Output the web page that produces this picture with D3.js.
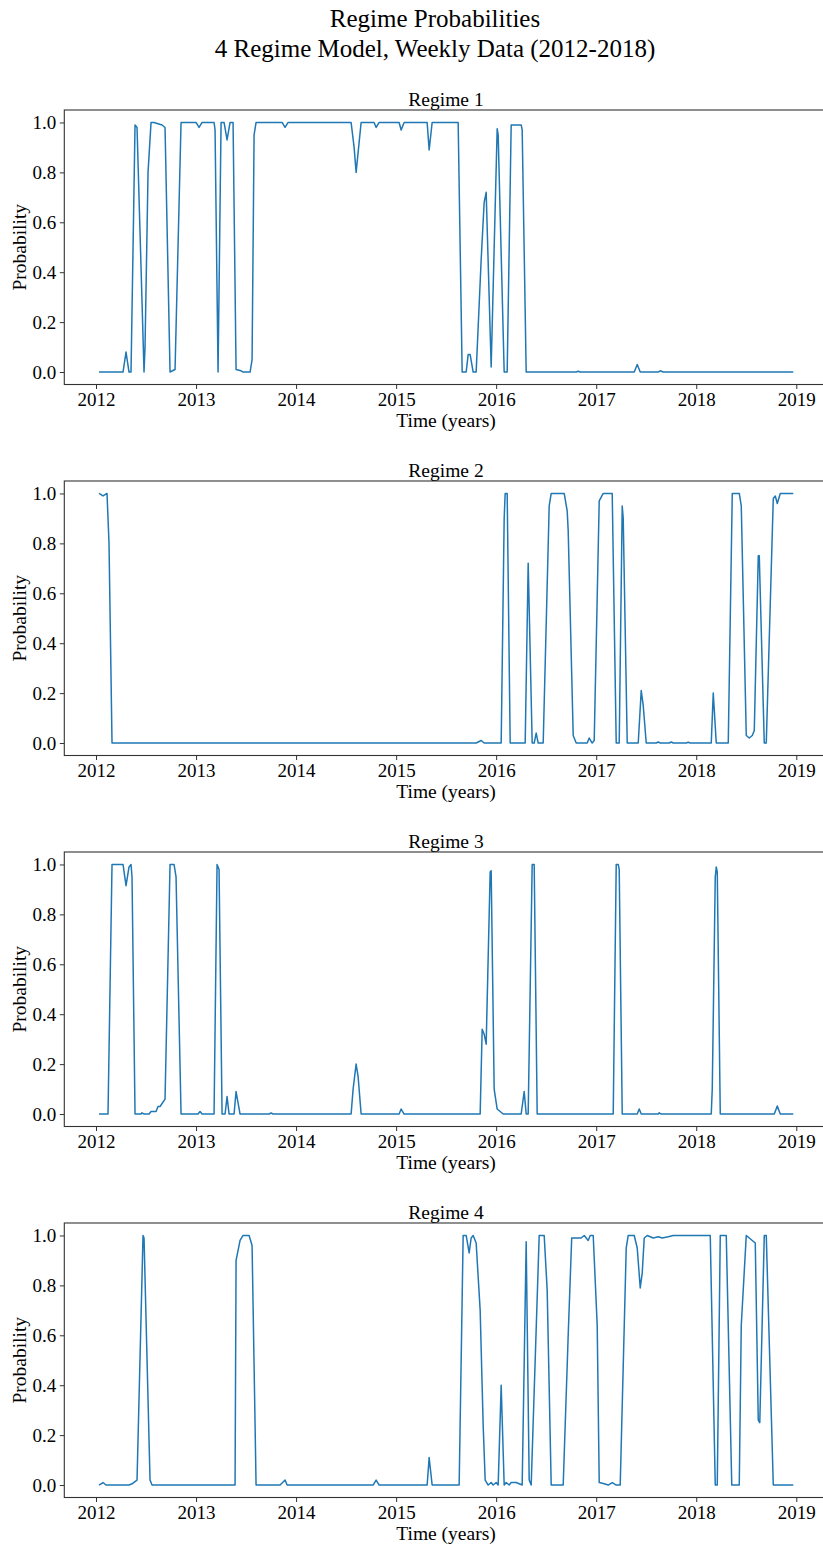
<!DOCTYPE html>
<html>
<head>
<meta charset="utf-8">
<script src="https://cdn.jsdelivr.net/npm/d3@7"></script>
<style>
  html, body { margin: 0; padding: 0; background: #fff; }
  svg { display: block; }
  text { font-family: "Liberation Serif", "Times New Roman", "DejaVu Serif", serif; fill: #000; }
</style>
</head>
<body>
<svg id="chart" width="823" height="1548"></svg>
<script>
// ---------------- DATA ----------------
const titleLines = ["Regime Probabilities", "4 Regime Model, Weekly Data (2012-2018)"];
const panelTitles = ["Regime 1", "Regime 2", "Regime 3", "Regime 4"];
const xLabel = "Time (years)";
const yLabel = "Probability";
const xTickYears = [2012, 2013, 2014, 2015, 2016, 2017, 2018, 2019];
const yTickValues = [0.0, 0.2, 0.4, 0.6, 0.8, 1.0];

// Regime 1: time (decimal years) and probability
const regime1Time = [2012.03,2012.27,2012.30,2012.33,2012.35,2012.39,2012.41,2012.48,2012.49,2012.52,2012.55,2012.58,2012.66,2012.69,2012.74,2012.79,2012.85,2013.00,2013.03,2013.06,2013.18,2013.19,2013.22,2013.25,2013.28,2013.31,2013.34,2013.37,2013.40,2013.45,2013.47,2013.54,2013.56,2013.58,2013.60,2013.86,2013.89,2013.92,2014.55,2014.58,2014.60,2014.62,2014.65,2014.78,2014.80,2014.83,2015.03,2015.05,2015.08,2015.31,2015.33,2015.36,2015.62,2015.66,2015.70,2015.72,2015.74,2015.77,2015.80,2015.85,2015.88,2015.90,2015.95,2016.01,2016.02,2016.08,2016.11,2016.15,2016.25,2016.26,2016.30,2016.80,2016.82,2016.84,2017.38,2017.41,2017.44,2017.62,2017.64,2017.67,2018.97];
const regime1Prob = [0,0,0.08,0,0,0.99,0.98,0,0.1,0.8,1.0,1.0,0.99,0.98,0,0.01,1.0,1.0,0.98,1.0,1.0,0.97,0,1.0,1.0,0.93,1.0,1.0,0.01,0.005,0,0,0.05,0.95,1.0,1.0,0.98,1.0,1.0,0.9,0.80,0.88,1.0,1.0,0.98,1.0,1.0,0.97,1.0,1.0,0.89,1.0,1.0,0,0,0.07,0.07,0,0,0.45,0.68,0.72,0.02,0.975,0.95,0,0,0.99,0.99,0.97,0,0,0.003,0,0,0.03,0,0,0.005,0,0];

// Regime 2
const regime2Time = [2012.03,2012.07,2012.11,2012.13,2012.16,2015.80,2015.85,2015.88,2016.05,2016.08,2016.09,2016.11,2016.14,2016.29,2016.32,2016.36,2016.38,2016.40,2016.42,2016.47,2016.53,2016.55,2016.68,2016.71,2016.72,2016.77,2016.80,2016.91,2016.93,2016.96,2016.98,2017.03,2017.07,2017.16,2017.20,2017.23,2017.26,2017.27,2017.31,2017.42,2017.45,2017.47,2017.50,2017.60,2017.62,2017.64,2017.73,2017.75,2017.77,2017.90,2017.92,2017.94,2018.15,2018.17,2018.20,2018.32,2018.36,2018.43,2018.45,2018.50,2018.53,2018.56,2018.58,2018.62,2018.63,2018.68,2018.70,2018.77,2018.79,2018.81,2018.84,2018.97];
const regime2Prob = [1.0,0.99,1.0,0.8,0,0,0.01,0,0,0.9,1.0,1.0,0,0,0.72,0,0,0.04,0,0,0.95,1.0,1.0,0.93,0.85,0.03,0,0,0.02,0,0.01,0.97,1.0,1.0,0,0,0.95,0.9,0,0,0.21,0.15,0,0,0.004,0,0,0.004,0,0,0.003,0,0,0.20,0,0,1.0,1.0,0.95,0.03,0.02,0.03,0.05,0.75,0.75,0,0,0.98,0.99,0.96,1.0,1.0];

// Regime 3
const regime3Time = [2012.03,2012.12,2012.16,2012.27,2012.30,2012.33,2012.35,2012.36,2012.39,2012.45,2012.46,2012.48,2012.53,2012.55,2012.60,2012.62,2012.64,2012.69,2012.74,2012.78,2012.80,2012.85,2013.02,2013.04,2013.06,2013.18,2013.21,2013.23,2013.26,2013.29,2013.31,2013.33,2013.38,2013.40,2013.44,2013.73,2013.75,2013.77,2014.55,2014.57,2014.60,2014.62,2014.65,2015.03,2015.05,2015.08,2015.84,2015.86,2015.88,2015.90,2015.94,2015.95,2015.98,2016.01,2016.04,2016.07,2016.25,2016.28,2016.30,2016.32,2016.36,2016.38,2016.41,2017.17,2017.20,2017.22,2017.23,2017.26,2017.41,2017.43,2017.45,2017.62,2017.63,2017.65,2018.15,2018.16,2018.19,2018.20,2018.21,2018.24,2018.78,2018.81,2018.84,2018.97];
const regime3Prob = [0,0,1.0,1.0,0.915,0.99,1.0,0.95,0,0,0.005,0,0,0.01,0.01,0.03,0.03,0.06,1.0,1.0,0.95,0,0,0.01,0,0,1.0,0.98,0,0,0.07,0,0,0.09,0,0,0.004,0,0,0.1,0.2,0.15,0,0,0.02,0,0,0.34,0.32,0.28,0.97,0.975,0.1,0.02,0.01,0,0,0.09,0,0,1.0,1.0,0,0,1.0,1.0,0.98,0,0,0.02,0,0,0.005,0,0,0.1,0.95,0.99,0.97,0,0,0.032,0,0];

// Regime 4
const regime4Time = [2012.03,2012.07,2012.10,2012.33,2012.36,2012.41,2012.47,2012.48,2012.54,2012.56,
  2013.39,2013.40,2013.44,2013.47,2013.53,2013.56,2013.60,2013.84,2013.89,2013.91,
  2014.77,2014.80,2014.83,2015.31,2015.33,2015.36,2015.63,2015.67,2015.70,2015.73,
  2015.75,2015.77,2015.80,2015.84,2015.87,2015.89,2015.92,2015.95,2015.97,2016.00,
  2016.02,2016.05,2016.08,2016.10,2016.13,2016.15,2016.20,2016.26,2016.30,2016.33,
  2016.35,2016.43,2016.48,2016.51,2016.55,2016.67,2016.72,2016.755,2016.85,2016.88,
  2016.92,2016.94,2016.97,2017.01,2017.03,2017.08,2017.12,2017.16,2017.20,2017.24,
  2017.30,2017.32,2017.38,2017.41,2017.44,2017.46,2017.48,2017.51,2017.57,2017.62,
  2017.66,2017.72,2017.77,2018.14,2018.19,2018.21,2018.24,2018.30,2018.355,2018.43,
  2018.45,2018.50,2018.53,2018.56,2018.59,2018.62,2018.635,2018.68,2018.70,2018.77,
  2018.97];
const regime4Prob = [0,0.01,0,0,0.005,0.02,1.0,0.99,0.02,0,
  0,0.9,0.98,1.0,1.0,0.96,0,0,0.02,0,
  0,0.02,0,0,0.11,0,0,1.0,1.0,0.93,
  0.99,1.0,0.97,0.7,0.24,0.02,0,0.01,0,0.01,
  0,0.40,0,0.01,0,0.01,0.01,0,0.975,0.02,
  0,1.0,1.0,0.78,0,0,0.6,0.99,0.99,1.0,
  0.98,1.0,1.0,0.64,0.01,0.005,0,0.01,0,0,
  0.95,1.0,1.0,0.95,0.79,0.85,0.99,1.0,0.99,0.995,
  0.99,0.995,1.0,1.0,0,0,1.0,1.0,0,0,
  0.64,1.0,0.99,0.98,0.97,0.26,0.25,1.0,1.0,0,
  0];

const regimeTimes = [regime1Time, regime2Time, regime3Time, regime4Time];
const regimeProbs = [regime1Prob, regime2Prob, regime3Prob, regime4Prob];

// ---------------- LAYOUT ----------------
const svg = d3.select("#chart");
const axLeft = 64.3, axRight = 827.7;
const panelTop0 = 110, panelStep = 371, panelH = 274.5;
const lineColor = "#1f77b4";
const spineColor = "#333";

svg.append("rect").attr("width", 823).attr("height", 1548).attr("fill", "#fff");

// Super title
svg.selectAll("text.suptitle").data(titleLines).enter().append("text")
  .attr("class", "suptitle")
  .attr("x", 435).attr("y", (d, i) => 27 + i * 29.5)
  .attr("text-anchor", "middle")
  .style("font-size", "25px")
  .text(d => d);

const x = d3.scaleLinear().domain([2011.683, 2019.314]).range([axLeft, axRight]);

regimeTimes.forEach((times, i) => {
  const top = panelTop0 + i * panelStep;
  const bottom = top + panelH;
  const y = d3.scaleLinear().domain([-0.05, 1.05]).range([bottom, top]);
  const g = svg.append("g");

  const data = times.map((t, k) => ({ t: t, p: regimeProbs[i][k] }));

  const clipId = "clip" + i;
  g.append("clipPath").attr("id", clipId).append("rect")
    .attr("x", axLeft).attr("y", top).attr("width", axRight - axLeft).attr("height", panelH);

  g.append("path")
    .datum(data)
    .attr("clip-path", `url(#${clipId})`)
    .attr("fill", "none")
    .attr("stroke", lineColor)
    .attr("stroke-width", 1.5)
    .attr("stroke-linejoin", "round")
    .attr("d", d3.line().x(d => x(d.t)).y(d => y(d.p)));

  // axes
  const xAxis = g.append("g").attr("transform", `translate(0,${bottom})`)
    .call(d3.axisBottom(x).tickValues(xTickYears).tickFormat(d3.format("d")).tickSize(4.5).tickPadding(3.5));
  const yAxis = g.append("g").attr("transform", `translate(${axLeft},0)`)
    .call(d3.axisLeft(y).tickValues(yTickValues).tickFormat(d3.format(".1f")).tickSize(4.5).tickPadding(3.5));
  [xAxis, yAxis].forEach(a => {
    a.select(".domain").remove();
    a.selectAll(".tick line").attr("stroke", spineColor).attr("stroke-width", 1);
    a.selectAll(".tick text")
      .style("font-family", '"Liberation Serif", "Times New Roman", serif')
      .style("font-size", "19px").attr("fill", "#000");
  });

  // frame
  g.append("rect")
    .attr("x", axLeft).attr("y", top)
    .attr("width", axRight - axLeft).attr("height", panelH)
    .attr("fill", "none").attr("stroke", spineColor).attr("stroke-width", 1.1);

  // panel title
  g.append("text")
    .attr("x", (axLeft + axRight) / 2).attr("y", top - 4.5)
    .attr("text-anchor", "middle")
    .style("font-size", "19.5px")
    .text(panelTitles[i]);

  // x label
  g.append("text")
    .attr("x", (axLeft + axRight) / 2).attr("y", bottom + 42.5)
    .attr("text-anchor", "middle")
    .style("font-size", "19.5px")
    .text(xLabel);

  // y label
  g.append("text")
    .attr("transform", `translate(25.5,${(top + bottom) / 2}) rotate(-90)`)
    .attr("text-anchor", "middle")
    .style("font-size", "19.5px")
    .text(yLabel);
});
</script>
</body>
</html>
